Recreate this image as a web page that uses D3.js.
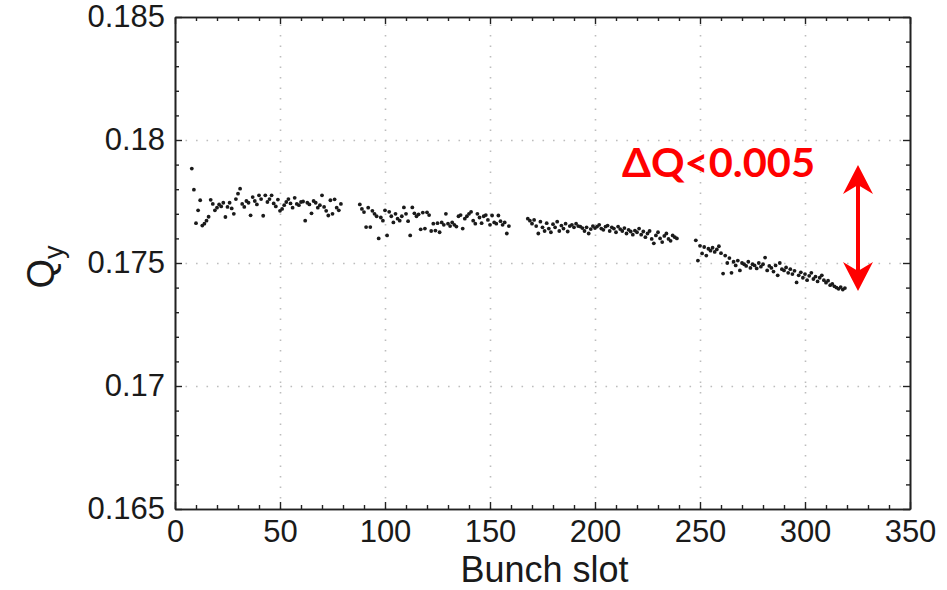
<!DOCTYPE html>
<html><head><meta charset="utf-8">
<script src="https://cdn.jsdelivr.net/npm/d3@7"></script>
<style>
html,body{margin:0;padding:0;background:#fff;}
svg{display:block;}
</style></head>
<body><svg id="chart" width="947" height="590"></svg>
<script>
// ---- data ----
const trainStarts = [8, 88, 168, 248];
const train1 = [0.17884,0.17798,0.17662,0.17714,0.17755,0.17652,0.17660,0.17672,0.17688,0.17757,
0.17740,0.17714,0.17725,0.17738,0.17730,0.17745,0.17687,0.17728,0.17745,0.17722,
0.17700,0.17760,0.17782,0.17802,0.17740,0.17728,0.17752,0.17745,0.17694,0.17768,
0.17752,0.17738,0.17775,0.17760,0.17692,0.17775,0.17748,0.17760,0.17775,0.17742,
0.17730,0.17758,0.17712,0.17720,0.17735,0.17748,0.17760,0.17742,0.17725,0.17765,
0.17740,0.17735,0.17748,0.17750,0.17672,0.17745,0.17738,0.17702,0.17752,0.17745,
0.17725,0.17735,0.17775,0.17728,0.17712,0.17693,0.17755,0.17700,0.17759,0.17725,
0.17714,0.17740];
const train2 = [0.17738,0.17720,0.17707,0.17646,0.17725,0.17646,0.17712,0.17700,0.17690,0.17600,
0.17685,0.17672,0.17714,0.17612,0.17708,0.17690,0.17665,0.17700,0.17680,0.17672,
0.17690,0.17726,0.17700,0.17670,0.17612,0.17726,0.17702,0.17690,0.17698,0.17637,
0.17705,0.17640,0.17706,0.17695,0.17630,0.17660,0.17632,0.17662,0.17625,0.17665,
0.17655,0.17700,0.17660,0.17650,0.17665,0.17655,0.17648,0.17690,0.17695,0.17640,
0.17680,0.17690,0.17700,0.17708,0.17672,0.17660,0.17700,0.17685,0.17662,0.17690,
0.17695,0.17675,0.17655,0.17693,0.17665,0.17660,0.17693,0.17670,0.17655,0.17665,
0.17620,0.17650];
const train3 = [0.17680,0.17672,0.17660,0.17675,0.17650,0.17620,0.17668,0.17645,0.17630,0.17662,
0.17640,0.17625,0.17658,0.17645,0.17668,0.17630,0.17652,0.17640,0.17660,0.17628,
0.17650,0.17655,0.17645,0.17660,0.17650,0.17648,0.17642,0.17630,0.17645,0.17620,
0.17638,0.17650,0.17642,0.17648,0.17655,0.17640,0.17635,0.17648,0.17652,0.17630,
0.17645,0.17640,0.17625,0.17648,0.17638,0.17630,0.17642,0.17620,0.17635,0.17628,
0.17615,0.17632,0.17625,0.17640,0.17615,0.17628,0.17605,0.17620,0.17630,0.17598,
0.17580,0.17612,0.17625,0.17600,0.17585,0.17610,0.17620,0.17598,0.17590,0.17612,
0.17605,0.17600];
const train4 = [0.17592,0.17510,0.17570,0.17539,0.17565,0.17530,0.17558,0.17550,0.17562,0.17545,
0.17555,0.17568,0.17540,0.17457,0.17530,0.17500,0.17520,0.17460,0.17505,0.17490,
0.17510,0.17470,0.17500,0.17495,0.17488,0.17505,0.17480,0.17495,0.17490,0.17478,
0.17500,0.17485,0.17495,0.17522,0.17470,0.17488,0.17480,0.17465,0.17490,0.17450,
0.17500,0.17475,0.17470,0.17482,0.17460,0.17475,0.17455,0.17468,0.17421,0.17450,
0.17462,0.17440,0.17455,0.17430,0.17448,0.17460,0.17435,0.17445,0.17425,0.17440,
0.17450,0.17430,0.17420,0.17428,0.17410,0.17415,0.17405,0.17400,0.17395,0.17402,
0.17392,0.17398];
const xTicks = [0, 50, 100, 150, 200, 250, 300, 350];
const yTicks = [0.165, 0.17, 0.175, 0.18, 0.185];
const yTickLabels = ["0.165", "0.17", "0.175", "0.18", "0.185"];
const xLabel = "Bunch slot";
const annotation = "ΔQ<0.005";

// ---- build points ----
const trains = [train1, train2, train3, train4];
const points = [];
trains.forEach((vals, t) => vals.forEach((v, i) => points.push({slot: trainStarts[t] + i, q: v})));

// ---- layout ----
const L = 175, R = 910, T = 17, B = 509;
const svg = d3.select("#chart");
const x = d3.scaleLinear().domain([0, 350]).range([L, R]);
const y = d3.scaleLinear().domain([0.165, 0.185]).range([B, T]);
const W = R - L, H = B - T;
const xMinor = d3.range(0, 351, 10).filter(v => v % 50 !== 0);
const yMinor = d3.range(0, 21).map(i => +(0.165 + i * 0.001).toFixed(3)).filter(v => !yTicks.some(t => Math.abs(t - v) < 1e-9));

// grid
const gridX = svg.append("g").attr("transform", `translate(0,${B})`)
  .call(d3.axisBottom(x).tickValues(xTicks.slice(1, -1)).tickSize(-H).tickFormat(""));
const gridY = svg.append("g").attr("transform", `translate(${L},0)`)
  .call(d3.axisLeft(y).tickValues(yTicks.slice(1, -1)).tickSize(-W).tickFormat(""));
[gridX, gridY].forEach(g => {
  g.select(".domain").remove();
  g.selectAll("line").attr("stroke", "#bdbdbd").attr("stroke-width", 1.6).attr("stroke-dasharray", "1.6,8.9");
});

// points
svg.append("g").selectAll("circle").data(points).join("circle")
  .attr("cx", d => x(d.slot)).attr("cy", d => y(d.q)).attr("r", 1.9).attr("fill", "#1a1a1a");

// axes
const font = "'Liberation Sans', Arial, Helvetica, sans-serif";
function styleAxis(g) {
  g.select(".domain").attr("stroke", "#222").attr("stroke-width", 1.6);
  g.selectAll(".tick line").attr("stroke", "#222").attr("stroke-width", 1.4);
  g.selectAll("text").attr("font-family", font).attr("font-size", 31).attr("fill", "#1a1a1a");
}
const xAxis = svg.append("g").attr("transform", `translate(0,${B})`)
  .call(d3.axisBottom(x).tickValues(xTicks).tickSizeInner(-7).tickSizeOuter(0).tickPadding(11).tickFormat(d3.format("d")));
styleAxis(xAxis);
xAxis.selectAll("text").attr("dy", "0.71em");
const xAxisMinor = svg.append("g").attr("transform", `translate(0,${B})`)
  .call(d3.axisBottom(x).tickValues(xMinor).tickSizeInner(-4).tickSizeOuter(0).tickFormat(""));
styleAxis(xAxisMinor);
const yAxis = svg.append("g").attr("transform", `translate(${L},0)`)
  .call(d3.axisLeft(y).tickValues(yTicks).tickSizeInner(-7).tickSizeOuter(0).tickPadding(10).tickFormat((d, i) => yTickLabels[i]));
styleAxis(yAxis);
const yAxisMinor = svg.append("g").attr("transform", `translate(${L},0)`)
  .call(d3.axisLeft(y).tickValues(yMinor).tickSizeInner(-4).tickSizeOuter(0).tickFormat(""));
styleAxis(yAxisMinor);
// top & right
const xTop = svg.append("g").attr("transform", `translate(0,${T})`)
  .call(d3.axisTop(x).tickValues(xTicks).tickSizeInner(-7).tickSizeOuter(0).tickFormat(""));
styleAxis(xTop);
const xTopMinor = svg.append("g").attr("transform", `translate(0,${T})`)
  .call(d3.axisTop(x).tickValues(xMinor).tickSizeInner(-4).tickSizeOuter(0).tickFormat(""));
styleAxis(xTopMinor);
const yRight = svg.append("g").attr("transform", `translate(${R},0)`)
  .call(d3.axisRight(y).tickValues(yTicks).tickSizeInner(-7).tickSizeOuter(0).tickFormat(""));
styleAxis(yRight);
const yRightMinor = svg.append("g").attr("transform", `translate(${R},0)`)
  .call(d3.axisRight(y).tickValues(yMinor).tickSizeInner(-4).tickSizeOuter(0).tickFormat(""));
styleAxis(yRightMinor);

// axis labels
svg.append("text").attr("x", (L + R) / 2 + 2).attr("y", 582).attr("text-anchor", "middle")
  .attr("font-family", font).attr("font-size", 36).attr("fill", "#1a1a1a").text(xLabel);
const ql = svg.append("text").attr("transform", `translate(54,${y(0.175) + 4}) rotate(-90)`)
  .attr("text-anchor", "middle").attr("font-family", font).attr("font-size", 38).attr("fill", "#1a1a1a");
ql.append("tspan").text("Q");
ql.append("tspan").attr("dy", 9).attr("font-size", 27).text("y");

// annotation
svg.append("text").attr("x", 622).attr("y", 177)
  .attr("font-family", "Lato, 'Open Sans', sans-serif").attr("font-weight", 700).attr("font-size", 41)
  .attr("fill", "#ff0000").attr("textLength", 193).attr("lengthAdjust", "spacingAndGlyphs").text(annotation);

// double-headed arrow
const ax = 858, aTop = 165, aBot = 291;
svg.append("line").attr("x1", ax).attr("x2", ax).attr("y1", aTop + 12).attr("y2", aBot - 12)
  .attr("stroke", "#ff0000").attr("stroke-width", 4);
function head(tipY, dir) {
  const p = d3.path();
  p.moveTo(ax, tipY);
  p.lineTo(ax + 15, tipY + dir * 29);
  p.lineTo(ax, tipY + dir * 20);
  p.lineTo(ax - 15, tipY + dir * 29);
  p.closePath();
  svg.append("path").attr("d", p.toString()).attr("fill", "#ff0000");
}
head(aTop, 1);
head(aBot, -1);
</script></body></html>
